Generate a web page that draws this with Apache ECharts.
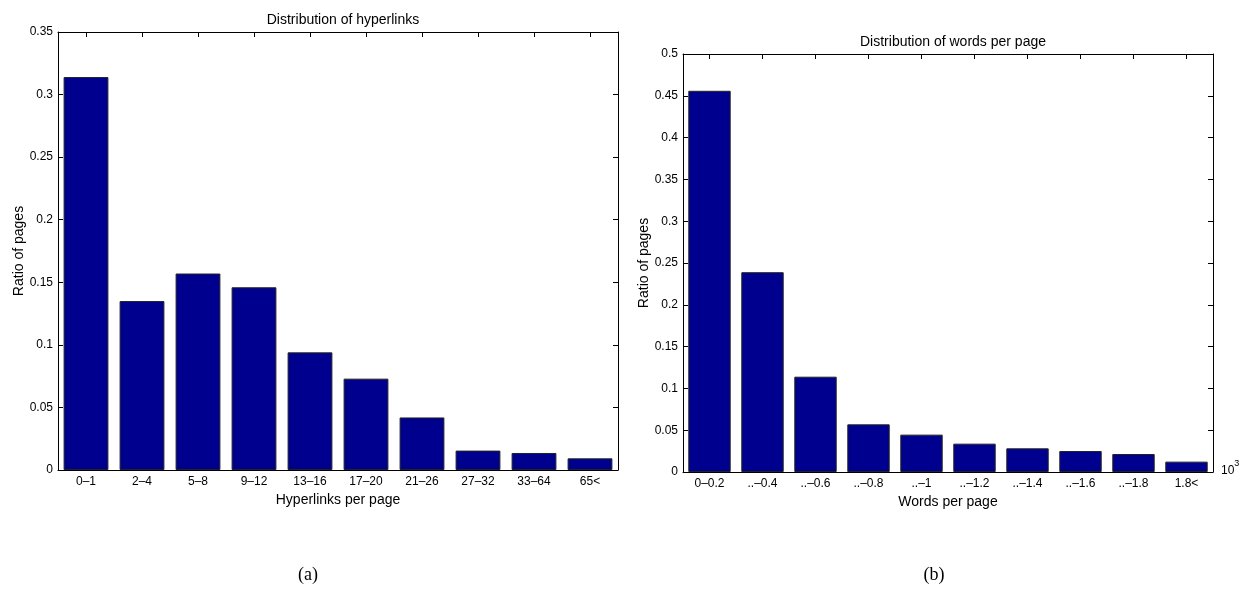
<!DOCTYPE html>
<html>
<head>
<meta charset="utf-8">
<script src="https://cdn.jsdelivr.net/npm/echarts@6/dist/echarts.min.js"></script>
<style>
  html, body { margin: 0; padding: 0; background: #fff; }
  #chart { width: 1244px; height: 592px; }
</style>
</head>
<body>
<div id="chart"></div>
<script>
// Panel (a): hyperlinks per page
const linkCategories = ['0\u20131', '2\u20134', '5\u20138', '9\u201312', '13\u201316', '17\u201320', '21\u201326', '27\u201332', '33\u201364', '65<'];
const linkRatios = [0.314, 0.135, 0.157, 0.146, 0.094, 0.073, 0.042, 0.0155, 0.0136, 0.0093];

// Panel (b): words per page (in thousands)
const wordCategories = ['0\u20130.2', '..\u20130.4', '..\u20130.6', '..\u20130.8', '..\u20131', '..\u20131.2', '..\u20131.4', '..\u20131.6', '..\u20131.8', '1.8<'];
const wordRatios = [0.456, 0.239, 0.114, 0.057, 0.0447, 0.0339, 0.0283, 0.0251, 0.0215, 0.0124];

const panelTitles = ['Distribution of hyperlinks', 'Distribution of words per page'];
const xNames = ['Hyperlinks per page', 'Words per page'];
const yName = 'Ratio of pages';
const captions = ['(a)', '(b)'];

const FONT = '"Liberation Sans", Arial, sans-serif';
const SERIF = '"Liberation Serif", "Times New Roman", serif';
const BAR = '#00008F';

const chart = echarts.init(document.getElementById('chart'), null, { renderer: 'canvas' });

const grids = [
  { left: 58, top: 32, width: 560, height: 438 },
  { left: 683, top: 54, width: 530, height: 418 }
];
const yMax = [0.35, 0.5];
const cats = [linkCategories, wordCategories];
const vals = [linkRatios, wordRatios];

const xAxes = [], yAxes = [], series = [], titles = [];
grids.forEach((g, i) => {
  titles.push({
    text: panelTitles[i],
    left: g.left + g.width / 2,
    top: g.top - 24,
    textAlign: 'center',
    textStyle: { fontFamily: FONT, fontSize: 14, fontWeight: 'normal', color: '#000' }
  });
  // bottom category axis with labels and name
  xAxes.push({
    type: 'category', gridIndex: i, position: 'bottom', data: cats[i],
    boundaryGap: true,
    name: xNames[i], nameLocation: 'middle', nameGap: 22,
    nameTextStyle: { fontFamily: FONT, fontSize: 14, color: '#000' },
    axisLine: { onZero: false, lineStyle: { color: '#000', width: 1 } },
    axisTick: { show: false },
    axisLabel: { fontFamily: FONT, fontSize: 12, color: '#000', margin: 6, interval: 0 }
  });
  // top mirror axis: inward ticks at bar centres
  xAxes.push({
    type: 'category', gridIndex: i, position: 'top', data: cats[i],
    boundaryGap: true,
    axisLine: { onZero: false, lineStyle: { color: '#000', width: 1 } },
    axisTick: { show: true, inside: true, alignWithLabel: true, length: 5, lineStyle: { color: '#000' } },
    axisLabel: { show: false }
  });
  yAxes.push({
    type: 'value', gridIndex: i, position: 'left', min: 0, max: yMax[i], interval: 0.05,
    name: yName, nameLocation: 'middle', nameGap: i === 0 ? 32 : 31, nameRotate: 90,
    nameTextStyle: { fontFamily: FONT, fontSize: 14, color: '#000' },
    splitLine: { show: false },
    axisLine: { show: true, onZero: false, lineStyle: { color: '#000', width: 1 } },
    axisTick: { show: true, inside: true, length: 5, lineStyle: { color: '#000' } },
    axisLabel: { fontFamily: FONT, fontSize: 12, color: '#000', margin: 5 }
  });
  yAxes.push({
    type: 'value', gridIndex: i, position: 'right', min: 0, max: yMax[i], interval: 0.05,
    splitLine: { show: false },
    axisLine: { show: true, onZero: false, lineStyle: { color: '#000', width: 1 } },
    axisTick: { show: true, inside: true, length: 5, lineStyle: { color: '#000' } },
    axisLabel: { show: false }
  });
  series.push({
    type: 'bar', xAxisIndex: i * 2, yAxisIndex: i * 2, data: vals[i],
    barCategoryGap: '20%',
    itemStyle: { color: BAR, borderColor: '#222', borderWidth: 1 },
    silent: true
  });
});

chart.setOption({
  animation: false,
  backgroundColor: '#fff',
  title: titles,
  grid: grids,
  xAxis: xAxes,
  yAxis: yAxes,
  series: series,
  graphic: [
    {
      type: 'text', left: 1221, top: 459,
      style: {
        text: '{b|10}{s|3}',
        rich: {
          b: { fontFamily: FONT, fontSize: 12, fill: '#000', verticalAlign: 'bottom', padding: [6, 0, 0, 0] },
          s: { fontFamily: FONT, fontSize: 9, fill: '#000', verticalAlign: 'top' }
        }
      }
    },
    {
      type: 'text', x: 308, y: 575,
      style: { text: captions[0], fontFamily: SERIF, fontSize: 18, fill: '#000', align: 'center', verticalAlign: 'middle' }
    },
    {
      type: 'text', x: 934, y: 575,
      style: { text: captions[1], fontFamily: SERIF, fontSize: 18, fill: '#000', align: 'center', verticalAlign: 'middle' }
    }
  ]
});
</script>
</body>
</html>
